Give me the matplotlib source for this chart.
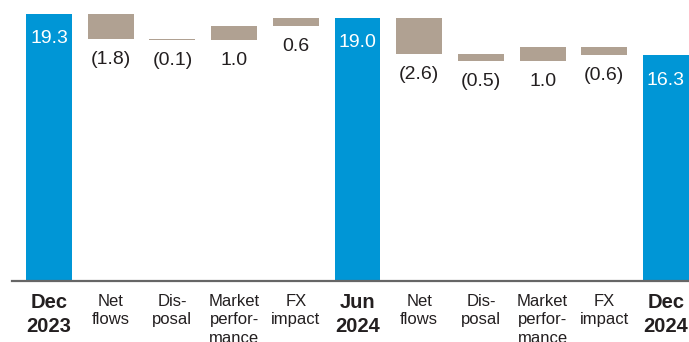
import numpy as np
import matplotlib.pyplot as plt

plt.rcParams['font.family'] = ['Liberation Sans', 'DejaVu Sans']

# AUM bridge, $bn
labels = ['Dec\n2023', 'Net\nflows', 'Dis-\nposal', 'Market\nperfor-\nmance', 'FX\nimpact',
          'Jun\n2024', 'Net\nflows', 'Dis-\nposal', 'Market\nperfor-\nmance', 'FX\nimpact',
          'Dec\n2024']
values = [19.3, -1.8, -0.1, 1.0, 0.6, 19.0, -2.6, -0.5, 1.0, -0.6, 16.3]
is_total = [True, False, False, False, False, True, False, False, False, False, True]

blue = '#0096d6'
tan = '#b0a192'
dark = '#231f20'

fig = plt.figure(figsize=(6.89, 3.42), dpi=100)
ax = fig.add_axes([11.7 / 689, 61 / 342, (689 - 11.7) / 689, 281 / 342])

x = np.arange(len(values))
running = 0.0
for i, (v, tot) in enumerate(zip(values, is_total)):
    if tot:
        running = v
        ax.bar(x[i], v, width=0.745, color=blue)
        ax.annotate(f'{v:.1f}', (x[i], v), xytext=(0, -21), textcoords='offset points',
                    ha='center', va='baseline', color='white', fontsize=14)
    else:
        start = running
        running = round(running + v, 1)
        lo, hi = min(start, running), max(start, running)
        ax.bar(x[i], hi - lo, bottom=lo, width=0.745, color=tan)
        txt = f'{v:.1f}' if v > 0 else f'({abs(v):.1f})'
        ax.annotate(txt, (x[i], lo), xytext=(0, -18), textcoords='offset points',
                    ha='center', va='baseline', color=dark, fontsize=14)

ax.set_xlim(-0.605, 10.373)
ax.set_ylim(0, 20.3)

for s in ['top', 'right', 'left']:
    ax.spines[s].set_visible(False)
ax.spines['bottom'].set_color('#666666')
ax.spines['bottom'].set_linewidth(1.6)
ax.set_yticks([])

ax.set_xticks(x)
ax.set_xticklabels(labels)
ax.tick_params(axis='x', length=0, pad=9)
for lab, tot in zip(ax.get_xticklabels(), is_total):
    lab.set_color(dark)
    if tot:
        lab.set_fontsize(14.5)
        lab.set_fontweight('bold')
        lab.set_linespacing(1.3)
    else:
        lab.set_fontsize(12)
        lab.set_linespacing(1.32)

fig.savefig('out.png', dpi=100)
